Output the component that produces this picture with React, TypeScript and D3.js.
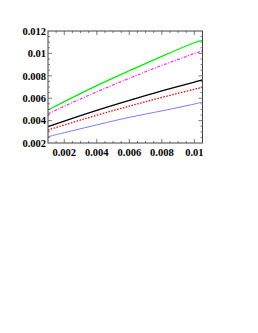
import * as d3 from 'd3'
import React, { useEffect, useRef } from "react";

const xs = [0.001, 0.002, 0.004, 0.006, 0.008, 0.010, 0.0105];
const green = [4.95, 5.69, 7.12, 8.45, 9.74, 10.95, 11.13];
const magenta = [4.60, 5.28, 6.57, 7.78, 8.92, 9.99, 10.24];
const black = [3.46, 3.96, 4.91, 5.80, 6.65, 7.44, 7.63];
const red = [3.16, 3.61, 4.48, 5.29, 6.07, 6.80, 6.97];
const blue = [2.56, 2.92, 3.62, 4.29, 4.87, 5.48, 5.69];

const xTicks = [0.002, 0.004, 0.006, 0.008, 0.01];
const xTickLabels = ['0.002', '0.004', '0.006', '0.008', '0.01'];
const yTicks = [0.002, 0.004, 0.006, 0.008, 0.01, 0.012];
const yTickLabels = ['0.002', '0.004', '0.006', '0.008', '0.01', '0.012'];

interface Series {
    values: number[]
    color: string
    dash: string | null
    width: number
}

const series: Series[] = [
    { values: blue, color: '#7b7bff', dash: null, width: 1 },
    { values: red, color: '#ff0000', dash: '1.5,1.5', width: 1.3 },
    { values: black, color: '#000000', dash: null, width: 1.3 },
    { values: magenta, color: '#ff33ff', dash: '3,1.5,1,1.5', width: 1.3 },
    { values: green, color: '#00ee00', dash: null, width: 1.3 },
];

const Chart: React.FC = () => {
    const ref = useRef<SVGSVGElement>(null);

    useEffect(() => {
        if (!ref.current) return;
        const svg = d3.select(ref.current);
        svg.selectAll('*').remove();

        const left = 48, right = 202.5, top = 31, bottom = 143;
        const x = d3.scaleLinear().domain([0.001, 0.0105]).range([left, right]);
        const y = d3.scaleLinear().domain([0.002, 0.012]).range([bottom, top]);

        const font = '"Liberation Serif", "Times New Roman", serif';
        const frame = '#444';

        // curves
        const line = d3.line<[number, number]>()
            .x(d => x(d[0]))
            .y(d => y(d[1]))
            .curve(d3.curveNatural);

        series.forEach(s => {
            const pts = xs.map((v, i) => [v, s.values[i] / 1000] as [number, number]);
            svg.append('path')
                .datum(pts)
                .attr('fill', 'none')
                .attr('stroke', s.color)
                .attr('stroke-width', s.width)
                .attr('stroke-dasharray', s.dash)
                .attr('d', line);
        });

        // ticks on all four sides, pointing inward
        const xMinor = d3.range(0.0015, 0.0105, 0.0005).filter(v => !xTicks.some(t => Math.abs(t - v) < 1e-9));
        const yMinor = d3.range(0.0025, 0.012, 0.0005).filter(v => !yTicks.some(t => Math.abs(t - v) < 1e-9));
        const ticks = svg.append('g').attr('stroke', frame).attr('stroke-width', 0.7);

        const xt = [...xTicks.map(v => ({ v, len: 4 })), ...xMinor.map(v => ({ v, len: 2 }))];
        xt.forEach(t => {
            ticks.append('line').attr('x1', x(t.v)).attr('x2', x(t.v)).attr('y1', bottom).attr('y2', bottom - t.len);
            ticks.append('line').attr('x1', x(t.v)).attr('x2', x(t.v)).attr('y1', top).attr('y2', top + t.len);
        });
        const yt = [...yTicks.slice(1, -1).map(v => ({ v, len: 4 })), ...yMinor.map(v => ({ v, len: 2 }))];
        yt.forEach(t => {
            ticks.append('line').attr('y1', y(t.v)).attr('y2', y(t.v)).attr('x1', left).attr('x2', left + t.len);
            ticks.append('line').attr('y1', y(t.v)).attr('y2', y(t.v)).attr('x1', right).attr('x2', right - t.len);
        });

        // frame
        svg.append('rect')
            .attr('x', left).attr('y', top)
            .attr('width', right - left).attr('height', bottom - top)
            .attr('fill', 'none')
            .attr('stroke', frame)
            .attr('stroke-width', 1);

        // tick labels
        svg.append('g')
            .selectAll('text')
            .data(xTicks)
            .join('text')
            .attr('x', d => x(d))
            .attr('y', 155.5)
            .attr('text-anchor', 'middle')
            .attr('font-family', font)
            .attr('font-weight', 'bold')
            .attr('font-size', 10.5)
            .text((d, i) => xTickLabels[i]);

        svg.append('g')
            .selectAll('text')
            .data(yTicks)
            .join('text')
            .attr('x', left - 2)
            .attr('y', d => y(d) + 3.7)
            .attr('text-anchor', 'end')
            .attr('font-family', font)
            .attr('font-weight', 'bold')
            .attr('font-size', 10.5)
            .text((d, i) => yTickLabels[i]);
    }, []);

    return (
        <svg ref={ref} width={258} height={333}
            style={{ position: 'absolute', left: 0, top: 0, background: '#fff' }}></svg>
    );
}

export default function App() {
    return <Chart />;
}
